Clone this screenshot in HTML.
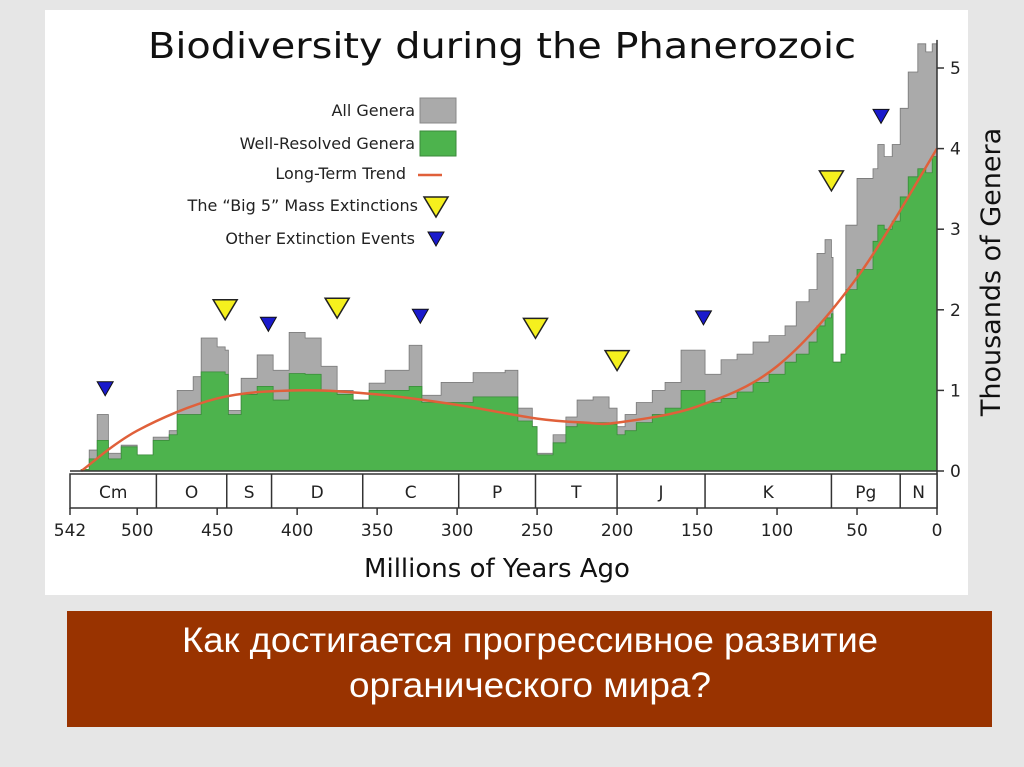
<!DOCTYPE html>
<html><head><meta charset="utf-8"><style>
html,body{margin:0;padding:0;background:#e6e6e6;}
svg{display:block;}
text{font-family:"DejaVu Sans","Liberation Sans",sans-serif;}
</style></head><body>
<svg id="c" width="1024" height="767" viewBox="0 0 1024 767" xmlns="http://www.w3.org/2000/svg">
<rect x="0" y="0" width="1024" height="767" fill="#e6e6e6"/>
<rect x="45" y="10" width="923" height="585" fill="#ffffff"/>
<text x="148" y="58" font-size="36" fill="#111" textLength="708" lengthAdjust="spacingAndGlyphs">Biodiversity during the Phanerozoic</text>
<g id="plot"></g>
<g id="axes"></g>
<g font-size="16" fill="#222">
<text x="415" y="116" text-anchor="end">All Genera</text>
<rect x="420" y="98" width="36" height="25" fill="#aaaaaa" stroke="#888"/>
<text x="415" y="149" text-anchor="end">Well-Resolved Genera</text>
<rect x="420" y="131" width="36" height="25" fill="#4db34d" stroke="#3a8a3a"/>
<text x="406" y="179" text-anchor="end">Long-Term Trend</text>
<line x1="418" y1="175" x2="442" y2="175" stroke="#e0603a" stroke-width="2.5"/>
<text x="418" y="211" text-anchor="end">The “Big 5” Mass Extinctions</text>
<polygon points="424,197 448,197 436,217" fill="#f5f01e" stroke="#222" stroke-width="1.5"/>
<text x="415" y="244" text-anchor="end">Other Extinction Events</text>
<polygon points="428,232 444,232 436,246" fill="#1a1acc" stroke="#111"/>
</g>
<text x="497" y="577" text-anchor="middle" font-size="26" fill="#111">Millions of Years Ago</text>
<text transform="translate(1000,272) rotate(-90)" text-anchor="middle" font-size="27" fill="#111">Thousands of Genera</text>
<rect x="67" y="611" width="925" height="116" fill="#993300"/>
<text x="530" y="652" text-anchor="middle" font-size="35" fill="#fff" textLength="696" lengthAdjust="spacingAndGlyphs" style="font-family:'Liberation Sans',sans-serif">Как достигается прогрессивное развитие</text>
<text x="530" y="697" text-anchor="middle" font-size="35" fill="#fff" textLength="362" lengthAdjust="spacingAndGlyphs" style="font-family:'Liberation Sans',sans-serif">органического мира?</text>
</svg>
<script>
const ages=[542,535,530,525,518,510,500,490,480,475,465,460,450,445,443,435,425,415,405,395,385,375,365,355,345,330,322,310,290,270,262,253,250,240,232,225,215,205,200,195,188,178,170,160,150,145,135,125,115,105,95,88,80,75,70,66,65,60,57,50,40,37,33,28,23,18,12,7,3,0];
const allGenera=[0,0.02,0.26,0.7,0.22,0.32,0.17,0.42,0.5,1.0,1.17,1.65,1.54,1.5,0.75,1.15,1.44,1.25,1.72,1.65,1.3,1.0,0.68,1.09,1.25,1.56,0.94,1.1,1.22,1.25,0.78,0.55,0.22,0.45,0.67,0.88,0.92,0.78,0.55,0.7,0.85,1.0,1.1,1.5,1.5,1.2,1.38,1.45,1.6,1.68,1.8,2.1,2.25,2.7,2.87,2.65,1.35,1.45,3.05,3.63,3.75,4.05,3.9,4.05,4.5,4.95,5.3,5.2,5.3,5.35];
const wellResolved=[0,0.02,0.15,0.38,0.15,0.3,0.2,0.38,0.45,0.7,0.7,1.23,1.23,1.2,0.7,0.95,1.05,0.88,1.21,1.2,1.0,0.95,0.88,1.0,1.0,1.05,0.85,0.85,0.92,0.92,0.62,0.55,0.2,0.35,0.55,0.6,0.6,0.58,0.45,0.5,0.6,0.7,0.78,1.0,1.0,0.85,0.9,0.98,1.1,1.2,1.35,1.45,1.6,1.8,1.9,1.95,1.35,1.45,2.25,2.5,2.85,3.05,3.0,3.1,3.4,3.65,3.75,3.7,3.9,4.2];
const trendAges=[535,500,450,400,350,300,250,220,200,150,100,50,0];
const trendValues=[0,0.5,0.9,1.0,0.95,0.82,0.65,0.6,0.6,0.8,1.3,2.4,4.0];
const big5Ages=[445,375,251,200,66];
const big5Values=[2.0,2.02,1.77,1.37,3.6];
const otherAges=[520,418,323,146,35];
const otherValues=[1.02,1.82,1.92,1.9,4.4];
const periodNames=["Cm","O","S","D","C","P","T","J","K","Pg","N"];
const periodBounds=[542,488,444,416,359,299,251,200,145,66,23,0];
const xTicks=[542,500,450,400,350,300,250,200,150,100,50,0];
const yTicks=[0,1,2,3,4,5];

const NS="http://www.w3.org/2000/svg";
const X=t=>937-(t/542)*867;
const Y=v=>471-v*80.6;
function mk(tag,attrs,parent){const e=document.createElementNS(NS,tag);for(const k in attrs)e.setAttribute(k,attrs[k]);parent.appendChild(e);return e;}
const plot=document.getElementById('plot'), axes=document.getElementById('axes');
function stepPath(vals){let d=`M${X(ages[0])},${Y(0)}`;for(let i=0;i<ages.length;i++){const x0=X(ages[i]);const x1=i<ages.length-1?X(ages[i+1]):X(0);d+=`L${x0},${Y(vals[i])}L${x1},${Y(vals[i])}`;}return d+`L${X(0)},${Y(0)}Z`;}
const pa=mk('path',{d:stepPath(allGenera),fill:'#aaaaaa',stroke:'#777','stroke-width':0.8},plot);


const pw=mk('path',{d:stepPath(wellResolved),fill:'#4db34d',stroke:'#3a8a3a','stroke-width':0.8},plot);


const pts=trendAges.map((a,i)=>[X(a),Y(trendValues[i])]);
let d=`M${pts[0][0]},${pts[0][1]}`;
for(let i=0;i<pts.length-1;i++){const p0=pts[Math.max(0,i-1)],p1=pts[i],p2=pts[i+1],p3=pts[Math.min(pts.length-1,i+2)];
d+=`C${p1[0]+(p2[0]-p0[0])/6},${p1[1]+(p2[1]-p0[1])/6} ${p2[0]-(p3[0]-p1[0])/6},${p2[1]-(p3[1]-p1[1])/6} ${p2[0]},${p2[1]}`;}
const tr=mk('path',{d:d,fill:'none',stroke:'#e0603a','stroke-width':2.5},plot);


big5Ages.forEach((a,i)=>{const x=X(a),y=Y(big5Values[i]);
const p=mk('polygon',{points:`${x-12},${y-10} ${x+12},${y-10} ${x},${y+10}`,fill:'#f5f01e',stroke:'#222','stroke-width':1.5},plot);

});
otherAges.forEach((a,i)=>{const x=X(a),y=Y(otherValues[i]);
const p=mk('polygon',{points:`${x-8},${y-7} ${x+8},${y-7} ${x},${y+7}`,fill:'#1a1acc',stroke:'#111'},plot);

});
mk('line',{x1:X(542),y1:Y(0),x2:X(0),y2:Y(0),stroke:'#333','stroke-width':1.5},axes);
mk('line',{x1:937,y1:40,x2:937,y2:508,stroke:'#333','stroke-width':1.5},axes);
mk('rect',{x:X(542),y:474,width:X(0)-X(542),height:34,fill:'#fff',stroke:'#333','stroke-width':1.5},axes);
periodNames.forEach((n,i)=>{const x0=X(periodBounds[i]),x1=X(periodBounds[i+1]);
if(i>0)mk('line',{x1:x0,y1:474,x2:x0,y2:508,stroke:'#333','stroke-width':1.5},axes);
const t=mk('text',{x:(x0+x1)/2,y:498,'text-anchor':'middle','font-size':17,fill:'#222'},axes);t.textContent=n;

});
xTicks.forEach(v=>{const x=X(v);mk('line',{x1:x,y1:508,x2:x,y2:515,stroke:'#333','stroke-width':1.5},axes);
const t=mk('text',{x:x,y:536,'text-anchor':'middle','font-size':17,fill:'#222'},axes);t.textContent=v;

});
yTicks.forEach(v=>{const y=Y(v);mk('line',{x1:937,y1:y,x2:944,y2:y,stroke:'#333','stroke-width':1.5},axes);
const t=mk('text',{x:950,y:y+6,'font-size':17,fill:'#222'},axes);t.textContent=v;

});
</script>
</body></html>
